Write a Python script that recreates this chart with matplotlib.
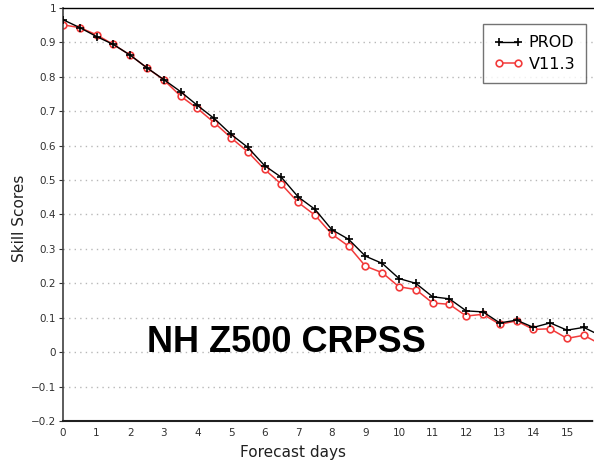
import matplotlib
matplotlib.use("Agg")
import matplotlib.pyplot as plt

days = [0, 0.5, 1, 1.5, 2, 2.5, 3, 3.5, 4, 4.5, 5, 5.5, 6, 6.5, 7, 7.5,
        8, 8.5, 9, 9.5, 10, 10.5, 11, 11.5, 12, 12.5, 13, 13.5, 14, 14.5, 15, 15.5, 16]
prod = [0.966, 0.943, 0.917, 0.894, 0.863, 0.826, 0.792, 0.757, 0.717, 0.679, 0.633, 0.595,
        0.542, 0.508, 0.451, 0.415, 0.356, 0.328, 0.279, 0.258, 0.214, 0.200, 0.161, 0.155,
        0.120, 0.117, 0.085, 0.093, 0.072, 0.085, 0.064, 0.072, 0.048]
v113 = [0.951, 0.943, 0.922, 0.894, 0.863, 0.826, 0.791, 0.744, 0.708, 0.667, 0.623, 0.582,
        0.531, 0.488, 0.435, 0.398, 0.343, 0.308, 0.250, 0.231, 0.190, 0.182, 0.143, 0.139,
        0.105, 0.110, 0.081, 0.091, 0.066, 0.068, 0.040, 0.049, 0.023]
xticks = list(range(0, 16))
yticks = [-0.2, -0.1, 0, 0.1, 0.2, 0.3, 0.4, 0.5, 0.6, 0.7, 0.8, 0.9, 1]
ytick_labels = ["\u22120.2", "\u22120.1", "0", "0.1", "0.2", "0.3", "0.4", "0.5",
                "0.6", "0.7", "0.8", "0.9", "1"]
series_names = ["PROD", "V11.3"]

W, H = 594, 462
fig = plt.figure(figsize=(W / 100, H / 100), dpi=100)
left, right, bottom, top = 63, 594, 421, 8
ax = fig.add_axes([left / W, (H - bottom) / H, (right - left) / W, (bottom - top) / H])
ax.set_xlim(0, (right - left) / 33.6)
ax.set_ylim(-0.2, 1.0)

for y in yticks[1:-1]:
    ax.axhline(y, color="#b8b8b8", lw=1.0, ls=(0, (1, 3)), zorder=0)

red = "#f23a3a"
ax.plot(days, prod, color="black", lw=1.0, marker="+", ms=5.5, mew=1.2,
        label=series_names[0], clip_on=True, zorder=3)
ax.plot(days, v113, color=red, lw=1.1, marker="o", ms=4.8, mfc="white", mec=red,
        mew=1.2, label=series_names[1], clip_on=True, zorder=2)

ax.spines["right"].set_visible(False)
ax.spines["left"].set_color("#404040")
ax.spines["left"].set_linewidth(1.2)
ax.spines["top"].set_linestyle((0, (4, 1)))
ax.spines["top"].set_linewidth(1.0)
ax.spines["bottom"].set_linestyle((0, (4, 1)))
ax.spines["bottom"].set_linewidth(1.5)
ax.spines["bottom"].set_color("#202020")

ax.set_xticks(xticks)
ax.set_xticklabels([str(t) for t in xticks])
ax.set_yticks(yticks)
ax.set_yticklabels(ytick_labels)
ax.tick_params(axis="both", labelsize=7.5, colors="#303030", length=3, width=0.8, pad=2)
ax.tick_params(axis="x", length=0, pad=5)

fig.text(20 / W, 1 - 218 / H, "Skill Scores", rotation=90, ha="center", va="center",
         fontsize=11, color="#202020")
fig.text(293 / W, 1 - 452 / H, "Forecast days", ha="center", va="center",
         fontsize=11, color="#202020")
fig.text(286 / W, 1 - 343 / H, "NH Z500 CRPSS", ha="center", va="center",
         fontsize=26, fontweight="bold", family="Liberation Sans", color="black")

leg = ax.legend(loc="upper left",
                bbox_to_anchor=((483 - left) / (right - left), 1 - (24 - top) / (bottom - top)),
                frameon=True, fancybox=False, edgecolor="#505050", handlelength=1.8,
                borderpad=0.7, labelspacing=0.4, handletextpad=0.35, borderaxespad=0,
                numpoints=2, prop={"family": "DejaVu Sans", "size": 11.5})
leg.get_frame().set_linewidth(1.0)

fig.savefig("out.png", dpi=100)
